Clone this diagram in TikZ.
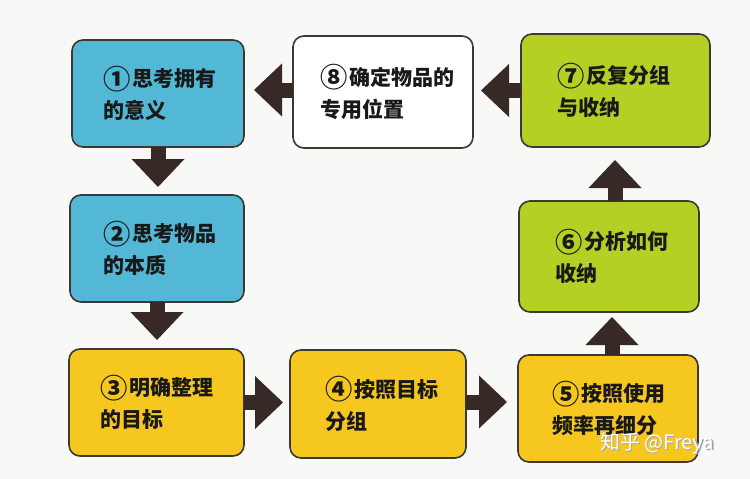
\documentclass[tikz,border=0pt]{standalone}
\usepackage{fontspec}
\usepackage{graphicx}
\newfontfamily\cjk{Noto Sans CJK SC}
\usetikzlibrary{arrows.meta,calc}
\newcommand{\cnum}[1]{\raisebox{-0.12em}{\scalebox{1.3}{#1}}\hspace{0.08em}}
\definecolor{bluefill}{RGB}{82,184,214}
\definecolor{limefill}{RGB}{182,207,36}
\definecolor{yellowfill}{RGB}{246,199,30}
\definecolor{boxline}{RGB}{60,56,50}
\definecolor{arrowc}{RGB}{55,42,38}
\definecolor{pagebg}{RGB}{248,248,246}
\definecolor{txtc}{RGB}{25,25,25}
\tikzset{
  box/.style={draw=boxline, line width=1.6pt, rounded corners=11pt, rectangle, inner sep=0pt, outer sep=0pt},
  bluebox/.style={box, fill=bluefill},
  limebox/.style={box, fill=limefill},
  yellowbox/.style={box, fill=yellowfill},
  whitebox/.style={box, fill=white},
  txt/.style={anchor=west, align=left, inner sep=0pt, text=txtc, font=\cjk\bfseries\fontsize{21}{32}\selectfont},
  blockarr/.style={draw=arrowc, line width=15pt, -{Triangle[width=53pt,length=28pt,line width=0pt]}}
}
\begin{document}
\begin{tikzpicture}[x=1pt,y=-1pt]
\fill[pagebg] (0,0) rectangle (750,479);
\useasboundingbox (0,0) rectangle (750,479);

% boxes
\node[bluebox, minimum width=172pt, minimum height=107pt] (b1) at (158,93.5) {};
\node[bluebox, minimum width=174pt, minimum height=107pt] (b2) at (157,248.5) {};
\node[yellowbox, minimum width=175pt, minimum height=107pt] (b3) at (156.5,402.5) {};
\node[yellowbox, minimum width=176pt, minimum height=108pt] (b4) at (378,404) {};
\node[yellowbox, minimum width=180pt, minimum height=107pt] (b5) at (608,408.5) {};
\node[limebox, minimum width=180pt, minimum height=111pt] (b6) at (609,256.5) {};
\node[limebox, minimum width=189pt, minimum height=113pt] (b7) at (615.5,90.5) {};
\node[whitebox, minimum width=180pt, minimum height=112pt] (b8) at (383,92) {};

% texts
\node[txt] (t1) at ($(b1.west)+(31,0)$) {\cnum{①}思考拥有\\的意义};
\node[txt] (t2) at ($(b2.west)+(33,0)$) {\cnum{②}思考物品\\的本质};
\node[txt] (t3) at ($(b3.west)+(31,0)$) {\cnum{③}明确整理\\的目标};
\node[txt] (t4) at ($(b4.west)+(35,0)$) {\cnum{④}按照目标\\分组};
\node[txt] (t5) at ($(b5.west)+(34,0)$) {\cnum{⑤}按照使用\\频率再细分};
\node[txt] (t6) at ($(b6.west)+(36,0)$) {\cnum{⑥}分析如何\\收纳};
\node[txt] (t7) at ($(b7.west)+(36,0)$) {\cnum{⑦}反复分组\\与收纳};
\node[txt] (t8) at ($(b8.west)+(27,0)$) {\cnum{⑧}确定物品的\\专用位置};

% arrows
\draw[blockarr, shorten >=8pt] (b1.south) -- (b1.south |- b2.north);
\draw[blockarr, shorten >=9pt] (b2.south) -- (b2.south |- b3.north);
\draw[blockarr, shorten >=7pt] (b3.east) -- (b3.east -| b4.west);
\draw[blockarr, shorten >=11pt] ([yshift=2pt]b4.east) -- ([yshift=2pt]b4.east -| b5.west);
\draw[blockarr, shorten >=5pt] ([xshift=4pt]b5.north) -- ([xshift=4pt]b5.north |- b6.south);
\draw[blockarr, shorten >=13pt] ([xshift=6pt]b6.north) -- ([xshift=6pt]b6.north |- b7.south);
\draw[blockarr, shorten >=8pt] (b7.west) -- (b7.west -| b8.east);
\draw[blockarr, shorten >=10pt] ([yshift=2pt]b8.west) -- ([yshift=2pt]b8.west -| b1.east);

% watermark
\node[anchor=west, inner sep=0pt, text=black!35, font=\cjk\fontsize{20}{24}\selectfont] (wms) at (601.2,444.2) {知乎 @Freya};
\node[anchor=west, inner sep=0pt, text=white, font=\cjk\fontsize{20}{24}\selectfont] (wm) at (600,443) {知乎 @Freya};
\end{tikzpicture}
\end{document}
